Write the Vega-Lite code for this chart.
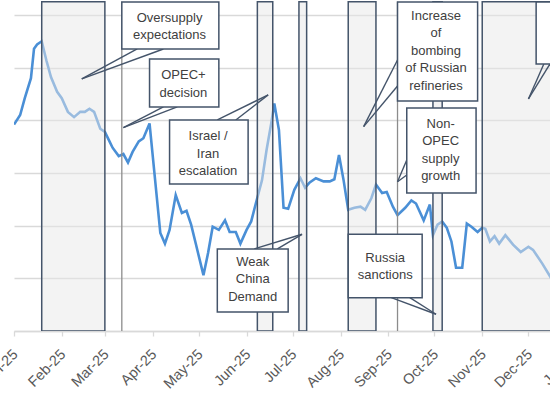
{
  "$schema": "https://vega.github.io/schema/vega-lite/v6.json",
  "width": 536,
  "height": 331,
  "autosize": "none",
  "padding": {"left": 14, "top": 0, "right": 0, "bottom": 69},
  "background": "white",
  "config": {
    "view": {"stroke": null},
    "font": "Liberation Sans"
  },
  "datasets": {
    "price": [
      {"date": "2025-01-01", "price": 74.6},
      {"date": "2025-01-05", "price": 75.5},
      {"date": "2025-01-08", "price": 77.1},
      {"date": "2025-01-12", "price": 79.0},
      {"date": "2025-01-14", "price": 81.8},
      {"date": "2025-01-16", "price": 82.2},
      {"date": "2025-01-19", "price": 82.5},
      {"date": "2025-01-22", "price": 80.7},
      {"date": "2025-01-25", "price": 79.1},
      {"date": "2025-01-29", "price": 77.7},
      {"date": "2025-02-01", "price": 77.1},
      {"date": "2025-02-05", "price": 75.8},
      {"date": "2025-02-09", "price": 75.3},
      {"date": "2025-02-13", "price": 75.8},
      {"date": "2025-02-16", "price": 75.8},
      {"date": "2025-02-19", "price": 76.1},
      {"date": "2025-02-22", "price": 75.8},
      {"date": "2025-02-26", "price": 74.2},
      {"date": "2025-03-01", "price": 73.9},
      {"date": "2025-03-04", "price": 73.0},
      {"date": "2025-03-06", "price": 72.4},
      {"date": "2025-03-10", "price": 71.6},
      {"date": "2025-03-13", "price": 71.8},
      {"date": "2025-03-16", "price": 71.0},
      {"date": "2025-03-19", "price": 72.0},
      {"date": "2025-03-23", "price": 73.0},
      {"date": "2025-03-26", "price": 73.3},
      {"date": "2025-03-30", "price": 74.7},
      {"date": "2025-04-06", "price": 64.3},
      {"date": "2025-04-09", "price": 63.3},
      {"date": "2025-04-12", "price": 64.6},
      {"date": "2025-04-16", "price": 67.9},
      {"date": "2025-04-20", "price": 66.2},
      {"date": "2025-04-23", "price": 66.4},
      {"date": "2025-04-26", "price": 65.1},
      {"date": "2025-04-29", "price": 63.3},
      {"date": "2025-05-04", "price": 60.3},
      {"date": "2025-05-07", "price": 62.4},
      {"date": "2025-05-10", "price": 64.9},
      {"date": "2025-05-14", "price": 64.6},
      {"date": "2025-05-18", "price": 65.5},
      {"date": "2025-05-21", "price": 64.4},
      {"date": "2025-05-25", "price": 64.4},
      {"date": "2025-05-28", "price": 63.3},
      {"date": "2025-06-01", "price": 64.6},
      {"date": "2025-06-04", "price": 65.4},
      {"date": "2025-06-07", "price": 67.1},
      {"date": "2025-06-11", "price": 69.3},
      {"date": "2025-06-14", "price": 72.2},
      {"date": "2025-06-17", "price": 74.7},
      {"date": "2025-06-19", "price": 76.6},
      {"date": "2025-06-22", "price": 74.1},
      {"date": "2025-06-25", "price": 66.7},
      {"date": "2025-06-28", "price": 66.6},
      {"date": "2025-07-02", "price": 68.4},
      {"date": "2025-07-06", "price": 69.5},
      {"date": "2025-07-09", "price": 68.6},
      {"date": "2025-07-12", "price": 69.1},
      {"date": "2025-07-16", "price": 69.5},
      {"date": "2025-07-21", "price": 69.2},
      {"date": "2025-07-25", "price": 69.2},
      {"date": "2025-07-28", "price": 69.4},
      {"date": "2025-07-31", "price": 71.7},
      {"date": "2025-08-03", "price": 69.3},
      {"date": "2025-08-06", "price": 66.5},
      {"date": "2025-08-10", "price": 66.7},
      {"date": "2025-08-14", "price": 66.8},
      {"date": "2025-08-17", "price": 66.5},
      {"date": "2025-08-21", "price": 67.6},
      {"date": "2025-08-24", "price": 68.9},
      {"date": "2025-08-28", "price": 68.1},
      {"date": "2025-08-31", "price": 68.2},
      {"date": "2025-09-04", "price": 66.8},
      {"date": "2025-09-07", "price": 66.0},
      {"date": "2025-09-12", "price": 66.7},
      {"date": "2025-09-16", "price": 67.4},
      {"date": "2025-09-19", "price": 67.1},
      {"date": "2025-09-24", "price": 65.5},
      {"date": "2025-09-28", "price": 67.0},
      {"date": "2025-09-30", "price": 64.1},
      {"date": "2025-10-03", "price": 65.1},
      {"date": "2025-10-06", "price": 65.4},
      {"date": "2025-10-09", "price": 64.8},
      {"date": "2025-10-12", "price": 63.5},
      {"date": "2025-10-15", "price": 61.0},
      {"date": "2025-10-19", "price": 61.0},
      {"date": "2025-10-22", "price": 65.2},
      {"date": "2025-10-25", "price": 64.9},
      {"date": "2025-10-29", "price": 64.4},
      {"date": "2025-11-01", "price": 64.8},
      {"date": "2025-11-03", "price": 64.7},
      {"date": "2025-11-06", "price": 63.5},
      {"date": "2025-11-09", "price": 64.0},
      {"date": "2025-11-12", "price": 63.3},
      {"date": "2025-11-16", "price": 64.1},
      {"date": "2025-11-21", "price": 63.2},
      {"date": "2025-11-26", "price": 62.5},
      {"date": "2025-12-01", "price": 63.0},
      {"date": "2025-12-04", "price": 62.7},
      {"date": "2025-12-10", "price": 61.4},
      {"date": "2025-12-15", "price": 60.2},
      {"date": "2025-12-18", "price": 59.4}
    ],
    "periods": [
      {"start": "2025-01-19", "end": "2025-03-01"},
      {"start": "2025-06-08", "end": "2025-06-18"},
      {"start": "2025-07-05", "end": "2025-07-10"},
      {"start": "2025-08-06", "end": "2025-08-24"},
      {"start": "2025-09-30", "end": "2025-10-06"},
      {"start": "2025-11-01", "end": "2025-12-31"}
    ],
    "markers": [
      {"date": "2025-03-12"},
      {"date": "2025-09-07"}
    ],
    "tails": [
      {"from": "2025-03-22", "fromY": 81.77, "to": "2025-02-14", "toY": 78.93},
      {"from": "2025-04-08", "fromY": 81.77, "to": "2025-02-14", "toY": 78.93},
      {"from": "2025-04-08", "fromY": 76.27, "to": "2025-03-13", "toY": 74.3},
      {"from": "2025-04-17", "fromY": 76.27, "to": "2025-03-13", "toY": 74.3},
      {"from": "2025-05-13", "fromY": 75.03, "to": "2025-06-15", "toY": 77.41},
      {"from": "2025-05-25", "fromY": 75.03, "to": "2025-06-15", "toY": 77.41},
      {"from": "2025-06-06", "fromY": 62.79, "to": "2025-07-07", "toY": 64.18},
      {"from": "2025-06-21", "fromY": 62.79, "to": "2025-07-07", "toY": 64.18},
      {"from": "2025-09-07", "fromY": 80.73, "to": "2025-08-16", "toY": 74.4},
      {"from": "2025-09-07", "fromY": 78.26, "to": "2025-08-16", "toY": 74.4},
      {"from": "2025-09-13", "fromY": 71.23, "to": "2025-09-07", "toY": 69.17},
      {"from": "2025-09-13", "fromY": 69.81, "to": "2025-09-07", "toY": 69.17},
      {"from": "2025-09-03", "fromY": 58.16, "to": "2025-10-02", "toY": 56.59},
      {"from": "2025-09-15", "fromY": 58.16, "to": "2025-10-02", "toY": 56.59},
      {"from": "2025-12-11", "fromY": 80.35, "to": "2025-12-01", "toY": 77.03},
      {"from": "2025-12-15", "fromY": 80.35, "to": "2025-12-01", "toY": 77.03}
    ],
    "callouts": [
      {"start": "2025-03-12", "end": "2025-05-14", "top": 86.24, "bottom": 81.77, "cx": "2025-04-12", "cy": 84.72, "label": "Oversupply\nexpectations"},
      {"start": "2025-03-30", "end": "2025-05-14", "top": 80.82, "bottom": 76.27, "cx": "2025-04-21", "cy": 79.3, "label": "OPEC+\ndecision"},
      {"start": "2025-04-12", "end": "2025-06-02", "top": 75.03, "bottom": 68.96, "cx": "2025-05-07", "cy": 73.51, "label": "Israel /\nIran\nescalation"},
      {"start": "2025-05-13", "end": "2025-06-28", "top": 62.79, "bottom": 56.8, "cx": "2025-06-05", "cy": 61.55, "label": "Weak\nChina\nDemand"},
      {"start": "2025-09-07", "end": "2025-10-29", "top": 86.24, "bottom": 76.84, "cx": "2025-10-02", "cy": 84.91, "label": "Increase\nof\nbombing\nof Russian\nrefineries"},
      {"start": "2025-09-13", "end": "2025-10-28", "top": 76.17, "bottom": 68.1, "cx": "2025-10-05", "cy": 74.65, "label": "Non-\nOPEC\nsupply\ngrowth"},
      {"start": "2025-08-06", "end": "2025-09-23", "top": 64.18, "bottom": 58.16, "cx": "2025-08-30", "cy": 61.93, "label": "Russia\nsanctions"},
      {"start": "2025-12-06", "end": "2025-12-31", "top": 86.24, "bottom": 80.35, "cx": "2025-12-20", "cy": 83.3, "label": ""}
    ],
    "nextYear": [
      {"date": "2026-01-01", "label": "Jan-26"}
    ]
  },
  "layer": [
    {
      "data": {"name": "price"},
      "mark": {"type": "line", "color": "#4a8fd6", "strokeWidth": 2.6, "clip": true},
      "encoding": {
        "x": {
          "field": "date",
          "type": "temporal",
          "scale": {"domain": [{"year": 2025, "month": 1, "date": 1, "utc": true}, {"year": 2025, "month": 12, "date": 15, "utc": true}]},
          "axis": {
            "title": null,
            "format": "%b-%y",
            "tickCount": {"interval": "month", "step": 1},
            "labelAngle": -45,
            "labelAlign": "right",
            "labelBaseline": "top",
            "labelFontSize": 14.5,
            "labelColor": "#595959",
            "labelPadding": 11,
            "labelOffset": -3.5,
            "labelOverlap": false,
            "labelFlush": false,
            "labelBound": false,
            "grid": false,
            "domainColor": "#d9d9d9",
            "domainWidth": 1.3,
            "tickColor": "#d9d9d9",
            "tickWidth": 1.3,
            "tickSize": 5
          }
        },
        "y": {
          "field": "price",
          "type": "quantitative",
          "scale": {"domain": [55, 86.42], "nice": false, "zero": false},
          "axis": {
            "title": null,
            "values": [55, 60, 65, 70, 75, 80, 85],
            "labels": false,
            "ticks": false,
            "domain": false,
            "grid": true,
            "gridColor": "#d9d9d9",
            "gridWidth": 1.3
          }
        }
      }
    },
    {
      "data": {"name": "periods"},
      "mark": {"type": "rect", "fill": "#e8e8e8", "fillOpacity": 0.5, "stroke": "#44546a", "strokeWidth": 1.5, "clip": true},
      "encoding": {
        "x": {"field": "start", "type": "temporal", "scale": {"domain": [{"year": 2025, "month": 1, "date": 1, "utc": true}, {"year": 2025, "month": 12, "date": 15, "utc": true}]}},
        "x2": {"field": "end"},
        "y": {"datum": 86.25, "type": "quantitative", "scale": {"domain": [55, 86.42], "nice": false, "zero": false}},
        "y2": {"datum": 55}
      }
    },
    {
      "data": {"name": "markers"},
      "mark": {"type": "rule", "color": "#8c8c8c", "strokeWidth": 1.3},
      "encoding": {
        "x": {"field": "date", "type": "temporal"},
        "y": {"datum": 86.25, "type": "quantitative"},
        "y2": {"datum": 55}
      }
    },
    {
      "data": {"name": "tails"},
      "mark": {"type": "rule", "color": "#44546a", "strokeWidth": 1.4, "clip": true},
      "encoding": {
        "x": {"field": "from", "type": "temporal"},
        "x2": {"field": "to"},
        "y": {"field": "fromY", "type": "quantitative"},
        "y2": {"field": "toY"}
      }
    },
    {
      "data": {"name": "callouts"},
      "mark": {"type": "rect", "fill": "white", "stroke": "#44546a", "strokeWidth": 1.5, "clip": true},
      "encoding": {
        "x": {"field": "start", "type": "temporal"},
        "x2": {"field": "end"},
        "y": {"field": "top", "type": "quantitative"},
        "y2": {"field": "bottom"}
      }
    },
    {
      "data": {"name": "callouts"},
      "mark": {"type": "text", "align": "center", "baseline": "middle", "lineBreak": "\n", "lineHeight": 17.5, "fontSize": 13, "color": "#404040", "font": "Liberation Sans"},
      "encoding": {
        "x": {"field": "cx", "type": "temporal"},
        "y": {"field": "cy", "type": "quantitative"},
        "text": {"field": "label"}
      }
    },
    {
      "data": {"name": "nextYear"},
      "mark": {"type": "text", "angle": 315, "align": "right", "baseline": "top", "dx": -13.8, "dy": 8.8, "fontSize": 14.5, "color": "#595959", "font": "Liberation Sans"},
      "encoding": {
        "x": {"field": "date", "type": "temporal"},
        "y": {"datum": 55, "type": "quantitative"},
        "text": {"field": "label"}
      }
    }
  ]
}
